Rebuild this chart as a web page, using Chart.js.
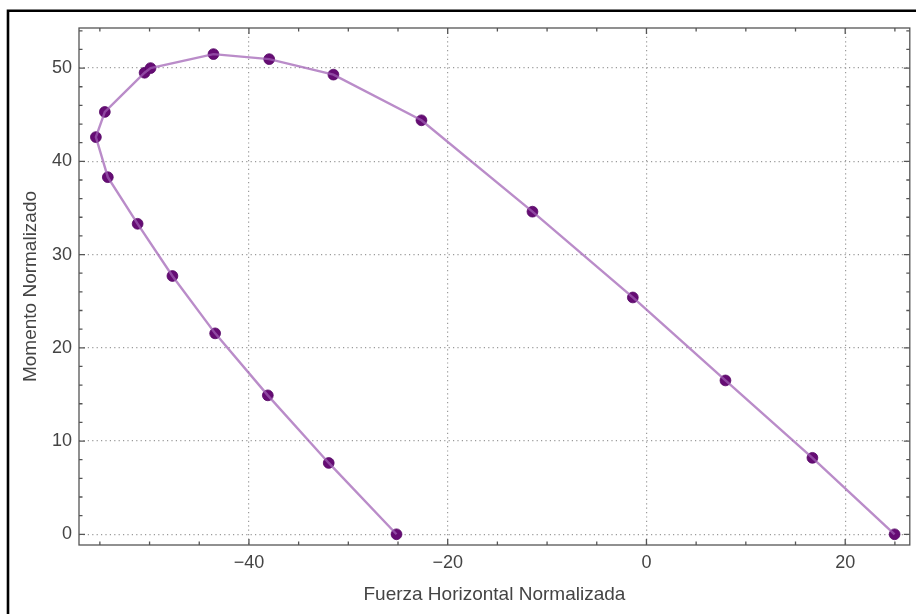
<!DOCTYPE html>
<html>
<head>
<meta charset="utf-8">
<script src="https://cdn.jsdelivr.net/npm/chart.js@4/dist/chart.umd.min.js"></script>
<style>
  html, body { margin: 0; padding: 0; background: #fff; }
  #wrap { width: 916px; height: 614px; position: relative; }
</style>
</head>
<body>
<div id="wrap"><canvas id="c" width="916" height="614"></canvas></div>
<script>
// ---- data ----
const fuerzaHorizontal = [-25.15, -31.97, -38.1, -43.4, -47.7, -51.2, -54.2, -55.4, -54.5, -50.5, -49.9, -43.57, -37.96, -31.5, -22.64, -11.47, -1.37, 7.95, 16.7, 24.97];
const momento          = [0, 7.65, 14.9, 21.55, 27.7, 33.3, 38.3, 42.6, 45.3, 49.5, 50.0, 51.5, 50.96, 49.3, 44.4, 34.6, 25.4, 16.5, 8.2, 0];
const xMajorTicks = [-40, -20, 0, 20];
const yMajorTicks = [0, 10, 20, 30, 40, 50];
const xTitle = 'Fuerza Horizontal Normalizada';
const yTitle = 'Momento Normalizado';

const points = fuerzaHorizontal.map((x, i) => ({ x: x, y: momento[i] }));

const FONT = "'Liberation Sans', Arial, sans-serif";
const TEXT = '#444';
const FRAME = '#555';

const framePlugin = {
  id: 'framePlugin',
  beforeDraw(chart) {
    const ctx = chart.ctx;
    ctx.save();
    ctx.fillStyle = '#fff';
    ctx.fillRect(0, 0, chart.width, chart.height);
    // outer image border (top & left)
    ctx.strokeStyle = '#000';
    ctx.lineWidth = 2.6;
    ctx.beginPath();
    ctx.moveTo(chart.width + 2, 10.7);
    ctx.lineTo(8, 10.7);
    ctx.lineTo(8, chart.height + 2);
    ctx.stroke();
    ctx.restore();
  },
  afterDraw(chart) {
    const ctx = chart.ctx;
    const a = chart.chartArea;
    const xs = chart.scales.x, ys = chart.scales.y;
    ctx.save();
    ctx.strokeStyle = FRAME;
    ctx.lineWidth = 1.3;
    ctx.strokeRect(a.left, a.top, a.right - a.left, a.bottom - a.top);
    ctx.beginPath();
    // x ticks (inward, bottom & top)
    for (let v = -55; v <= 25; v += 5) {
      const px = xs.getPixelForValue(v);
      const len = (v % 20 === 0) ? 6 : 3.5;
      ctx.moveTo(px, a.bottom); ctx.lineTo(px, a.bottom - len);
      ctx.moveTo(px, a.top); ctx.lineTo(px, a.top + len);
    }
    // y ticks (inward, left & right)
    for (let v = 0; v <= 54; v += 2) {
      const py = ys.getPixelForValue(v);
      const len = (v % 10 === 0) ? 6 : 3.5;
      ctx.moveTo(a.left, py); ctx.lineTo(a.left + len, py);
      ctx.moveTo(a.right, py); ctx.lineTo(a.right - len, py);
    }
    ctx.stroke();
    ctx.restore();
  }
};

new Chart(document.getElementById('c'), {
  type: 'scatter',
  data: {
    datasets: [
      {
        label: 'line',
        data: points,
        showLine: true,
        borderColor: 'rgba(160, 95, 180, 0.72)',
        borderWidth: 2.4,
        pointRadius: 0,
        fill: false,
        tension: 0,
        order: 0
      },
      {
        label: 'points',
        data: points,
        showLine: false,
        backgroundColor: '#660c74',
        borderColor: '#560866',
        borderWidth: 0.8,
        pointRadius: 5.4,
        order: 1
      }
    ]
  },
  options: {
    responsive: false,
    animation: false,
    devicePixelRatio: 1,
    layout: { padding: { top: 28, right: 4, left: 0, bottom: 0 } },
    plugins: { legend: { display: false }, tooltip: { enabled: false } },
    scales: {
      x: {
        type: 'linear',
        min: -57.1,
        max: 26.5,
        afterFit: (s) => { s.height = 69; },
        afterBuildTicks: (s) => { s.ticks = xMajorTicks.map(v => ({ value: v })); },
        ticks: {
          includeBounds: false,
          padding: 7,
          color: TEXT,
          font: { family: FONT, size: 18 },
          callback: (v) => (v < 0 ? '\u2212' + Math.abs(v) : String(v))
        },
        grid: { color: '#9a9a9a', lineWidth: 1.2, drawTicks: false },
        border: { display: false, dash: [1.2, 3.2] },
        title: {
          display: true,
          text: xTitle,
          color: TEXT,
          font: { family: FONT, size: 19 },
          padding: { top: 0, bottom: 8 }
        }
      },
      y: {
        type: 'linear',
        min: -1.15,
        max: 54.3,
        afterFit: (s) => { s.width = 79; },
        afterBuildTicks: (s) => { s.ticks = yMajorTicks.map(v => ({ value: v })); },
        ticks: {
          includeBounds: false,
          padding: 7,
          color: TEXT,
          font: { family: FONT, size: 18 }
        },
        grid: { color: '#9a9a9a', lineWidth: 1.2, drawTicks: false },
        border: { display: false, dash: [1.2, 3.2] },
        title: {
          display: true,
          text: yTitle,
          color: TEXT,
          font: { family: FONT, size: 19 },
          padding: { top: 19, bottom: 0 }
        }
      }
    }
  },
  plugins: [framePlugin]
});
</script>
</body>
</html>
